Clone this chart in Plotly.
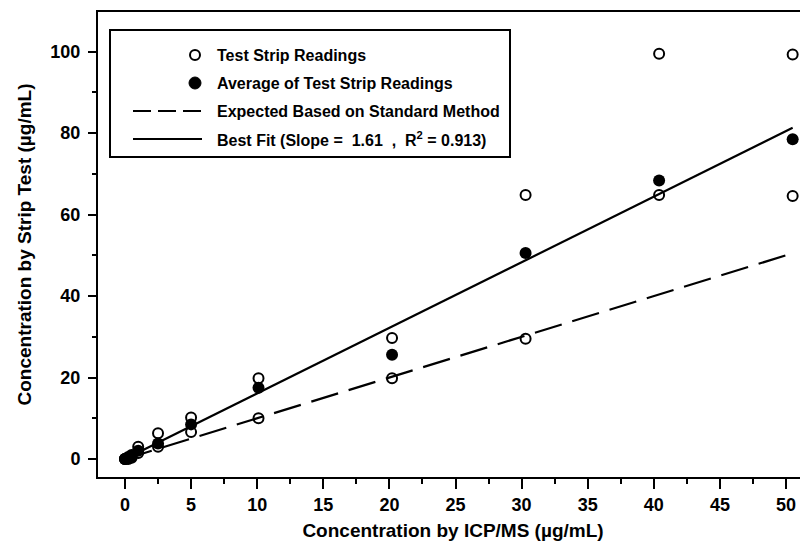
import plotly.graph_objects as go

# concentrations by ICP/MS (µg/mL)
icp = [0, 0.25, 0.5, 1, 2.5, 5, 10.1, 20.2, 30.3, 40.4, 50.5]
# individual test strip readings (distinct readings per level)
strip_hi = [0, 0.5, 1, 3, 6.3, 10.2, 19.8, 29.7, 64.8, 99.5, 99.3]
strip_lo = [0, 0, 0.3, 1.5, 3, 6.6, 10, 19.8, 29.5, 64.8, 64.6]
# average of test strip readings
strip_avg = [0, 0.3, 0.6, 2, 3.8, 8.5, 17.5, 25.6, 50.6, 68.4, 78.5]
slope = 1.61
r2 = 0.913

x_ticks = [0, 5, 10, 15, 20, 25, 30, 35, 40, 45, 50]
y_ticks = [0, 20, 40, 60, 80, 100]

legend_labels = [
    "Test Strip Readings",
    "Average of Test Strip Readings",
    "Expected Based on Standard Method",
    f"Best Fit (Slope =  {slope:.2f}  ,  R<sup>2</sup> = {r2:.3f})",
]

strip_x = icp + icp
strip_y = strip_hi + strip_lo
expected = list(icp)
fit = [slope * v for v in icp]

FONT = "Liberation Sans, Arial, sans-serif"

# page is shifted 8px by the body margin; figure spans page 8..808 x 8..557
W, H = 800, 549
ML, MR, MT, MB = 90, 0, 4, 80
PX0, PX1 = 8 + ML, 8 + W - MR      # plot area in page pixels
PY0, PY1 = 8 + MT, 8 + H - MB


def xp(px):
    return (px - PX0) / (PX1 - PX0)


def yp(py):
    return (PY1 - py) / (PY1 - PY0)


fig = go.Figure()
fig.add_trace(go.Scatter(
    x=strip_x, y=strip_y, mode="markers", name=legend_labels[0],
    marker=dict(symbol="circle-open", size=10, color="black", line=dict(width=2, color="black")),
))
fig.add_trace(go.Scatter(
    x=icp, y=strip_avg, mode="markers", name=legend_labels[1],
    marker=dict(symbol="circle", size=12, color="black"),
))
fig.add_trace(go.Scatter(
    x=icp, y=expected, mode="lines", name=legend_labels[2],
    line=dict(color="black", width=2.2, dash="28px,11px"),
))
fig.add_trace(go.Scatter(
    x=icp, y=fit, mode="lines", name=legend_labels[3],
    line=dict(color="black", width=2.2),
))

# hand-drawn legend box matching the original layout
shapes = [
    dict(type="rect", xref="paper", yref="paper", x0=xp(110), x1=xp(510), y0=yp(157), y1=yp(30),
         line=dict(color="black", width=2), fillcolor="white", layer="above"),
]
rows = [55, 83, 111, 139]
mx = 195
shapes.append(dict(type="circle", xref="paper", yref="paper", xsizemode="pixel", ysizemode="pixel",
                   xanchor=xp(mx), yanchor=yp(rows[0]), x0=-5, x1=5, y0=-5, y1=5,
                   line=dict(color="black", width=2), fillcolor="white"))
shapes.append(dict(type="circle", xref="paper", yref="paper", xsizemode="pixel", ysizemode="pixel",
                   xanchor=xp(mx), yanchor=yp(rows[1]), x0=-6, x1=6, y0=-6, y1=6,
                   line=dict(color="black", width=1), fillcolor="black"))
shapes.append(dict(type="line", xref="paper", yref="paper", x0=xp(133), x1=xp(202),
                   y0=yp(rows[2]), y1=yp(rows[2]), line=dict(color="black", width=2, dash="18px,7px")))
shapes.append(dict(type="line", xref="paper", yref="paper", x0=xp(133), x1=xp(202),
                   y0=yp(rows[3]), y1=yp(rows[3]), line=dict(color="black", width=2)))

annotations = []
for label, ry in zip(legend_labels, rows):
    annotations.append(dict(
        text=label, xref="paper", yref="paper", x=xp(215), y=yp(ry),
        xanchor="left", yanchor="middle", showarrow=False,
        font=dict(family=FONT, size=16, color="black", weight="bold"),
    ))

fig.update_layout(
    width=W, height=H,
    margin=dict(l=ML, r=MR, t=MT, b=MB),
    paper_bgcolor="white", plot_bgcolor="white",
    font=dict(family=FONT, color="black"),
    showlegend=False,
    shapes=shapes,
    annotations=annotations,
    xaxis=dict(
        range=[-2.04, 51.66], tickvals=x_ticks, ticktext=[str(t) for t in x_ticks],
        ticks="outside", ticklen=10, tickwidth=2, tickcolor="black",
        showline=True, linewidth=2, linecolor="black", mirror=True,
        showgrid=False, zeroline=False,
        minor=dict(dtick=2.5, tick0=0, ticks="outside", ticklen=5, tickwidth=2, tickcolor="black"),
        tickfont=dict(family=FONT, size=18, weight="bold"),
        title=dict(text="Concentration by ICP/MS (µg/mL)", standoff=10,
                   font=dict(family=FONT, size=19, weight="bold")),
    ),
    yaxis=dict(
        range=[-4.42, 109.75], tickvals=y_ticks, ticktext=[str(t) for t in y_ticks],
        ticks="outside", ticklen=8, tickwidth=2, tickcolor="black", ticklabelstandoff=4,
        showline=True, linewidth=2, linecolor="black",
        showgrid=False, zeroline=False,
        minor=dict(dtick=10, tick0=0, ticks="outside", ticklen=4, tickwidth=2, tickcolor="black"),
        tickfont=dict(family=FONT, size=18, weight="bold"),
        title=dict(text="Concentration by Strip Test (µg/mL)", standoff=14,
                   font=dict(family=FONT, size=19, weight="bold")),
    ),
)

fig.write_html("out.html")
